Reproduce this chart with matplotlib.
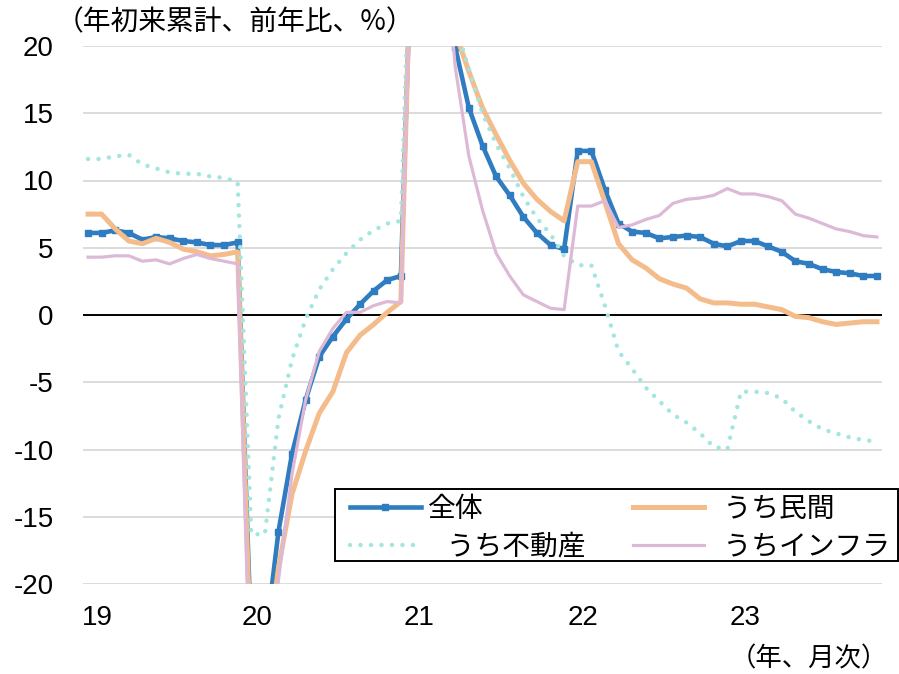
import matplotlib
matplotlib.use("Agg")
import matplotlib.pyplot as plt
from matplotlib.patches import Rectangle
import numpy as np

plt.rcParams['font.family'] = ['Liberation Sans', 'Noto Sans CJK JP', 'DejaVu Sans']

# Monthly, Jan 2019 .. Nov 2023 (Jan = Jan-Feb cumulative value)
year_labels = ["19", "20", "21", "22", "23"]

total = [6.1, 6.1, 6.3, 6.1, 5.6, 5.8, 5.7, 5.5, 5.4, 5.2, 5.2, 5.4,
         -24.5, -24.5, -16.1, -10.3, -6.3, -3.1, -1.6, -0.3, 0.8, 1.8, 2.6, 2.9,
         35.0, 35.0, 25.6, 19.9, 15.4, 12.6, 10.3, 8.9, 7.3, 6.1, 5.2, 4.9,
         12.2, 12.2, 9.3, 6.8, 6.2, 6.1, 5.7, 5.8, 5.9, 5.8, 5.3, 5.1,
         5.5, 5.5, 5.1, 4.7, 4.0, 3.8, 3.4, 3.2, 3.1, 2.9, 2.9]

private = [7.5, 7.5, 6.4, 5.5, 5.3, 5.7, 5.4, 4.9, 4.7, 4.4, 4.5, 4.7,
           -26.4, -26.4, -18.8, -13.3, -10.1, -7.3, -5.7, -2.8, -1.5, -0.7, 0.2, 1.0,
           36.6, 36.6, 26.0, 21.0, 18.1, 15.4, 13.4, 11.5, 9.8, 8.6, 7.7, 7.0,
           11.4, 11.4, 8.4, 5.3, 4.1, 3.5, 2.7, 2.3, 2.0, 1.2, 0.9, 0.9,
           0.8, 0.8, 0.6, 0.4, -0.1, -0.2, -0.5, -0.7, -0.6, -0.5, -0.5]

realestate = [11.6, 11.6, 11.8, 11.9, 11.2, 10.9, 10.6, 10.5, 10.5, 10.3, 10.2, 9.9,
              -16.3, -16.3, -7.7, -3.3, -0.3, 1.9, 3.4, 4.6, 5.6, 6.3, 6.8, 7.0,
              38.3, 38.3, 25.6, 21.6, 18.3, 15.0, 12.7, 10.9, 8.8, 7.2, 6.0, 4.4,
              3.7, 3.7, 0.7, -2.7, -4.0, -5.4, -6.4, -7.4, -8.0, -8.8, -9.8, -10.0,
              -5.7, -5.7, -5.8, -6.2, -7.2, -7.9, -8.5, -8.8, -9.1, -9.3, -9.4]

infra = [4.3, 4.3, 4.4, 4.4, 4.0, 4.1, 3.8, 4.2, 4.5, 4.2, 4.0, 3.8,
         -30.3, -30.3, -19.7, -11.8, -6.3, -2.7, -1.0, 0.2, 0.2, 0.7, 1.0, 0.9,
         36.6, 36.6, 29.7, 18.4, 11.8, 7.8, 4.6, 2.9, 1.5, 1.0, 0.5, 0.4,
         8.1, 8.1, 8.5, 6.5, 6.7, 7.1, 7.4, 8.3, 8.6, 8.7, 8.9, 9.4,
         9.0, 9.0, 8.8, 8.5, 7.5, 7.2, 6.8, 6.4, 6.2, 5.9, 5.8]

x = np.arange(len(total))

W, H = 899, 674
fig = plt.figure(figsize=(W / 100, H / 100), dpi=100)
ax = fig.add_axes([83 / W, 1 - 584 / H, (882 - 83) / W, (584 - 46) / H])

c_blue = "#2F7DC0"
c_orange = "#F4BC8B"
c_cyan = "#A3E6E0"
c_pink = "#DDB9D6"

ax.set_ylim(-20, 20)
ax.set_xlim(-0.37, 58.37)

for yv in range(-20, 21, 5):
    if yv == 0:
        continue
    ax.axhline(yv, color="#D9D9D9", lw=1.3, zorder=1)
ax.axhline(0, color="black", lw=1.4, zorder=2)

l1, = ax.plot(x, total, color=c_blue, lw=3.3, marker="s", markersize=4.8,
              label="全体", zorder=3, solid_joinstyle="round")
l2, = ax.plot(x, private, color=c_orange, lw=3.6, label="  うち民間", zorder=3,
              solid_joinstyle="round")
l3, = ax.plot(x, realestate, color=c_cyan, lw=3.2, linestyle=(0, (0.01, 2.35)),
              dash_capstyle="round", label="   うち不動産", zorder=3)
l4, = ax.plot(x, infra, color=c_pink, lw=2.3, label="  うちインフラ", zorder=3,
              solid_joinstyle="round")

for s in ax.spines.values():
    s.set_visible(False)

ax.set_yticks(range(-20, 21, 5))
ax.set_yticklabels([str(v) for v in range(-20, 21, 5)])
ax.set_xticks([0.66, 12.46, 24.3, 36.36, 48.3])
ax.set_xticklabels(year_labels)
ax.tick_params(axis="both", length=0, labelsize=20)
ax.tick_params(axis="y", pad=21)
ax.tick_params(axis="x", pad=15)

fig.text(56 / W, 1 - 22 / H, "（年初来累計、前年比、%）", fontsize=20,
         ha="left", va="center", family=["Noto Sans CJK JP"])
fig.text(888 / W, 1 - 659 / H, "（年、月次）", fontsize=19,
         ha="right", va="center", family=["Noto Sans CJK JP"])

# legend frame
frame = Rectangle((335 / W, 1 - 561 / H), (898 - 335) / W, (561 - 489) / H,
                  transform=fig.transFigure, facecolor="white", edgecolor="black",
                  lw=1.4, zorder=4)
fig.add_artist(frame)

leg = fig.legend(handles=[l1, l3, l2, l4], ncol=2,
                 bbox_to_anchor=(350 / W, 1 - 494 / H), loc="upper left",
                 frameon=False,
                 prop={"family": ["Noto Sans CJK JP"], "size": 20},
                 handlelength=2.55, handletextpad=0.25, columnspacing=1.72,
                 borderpad=0, labelspacing=0.27, numpoints=1, borderaxespad=0)
leg.set_zorder(5)

fig.savefig("out.png", dpi=100)
